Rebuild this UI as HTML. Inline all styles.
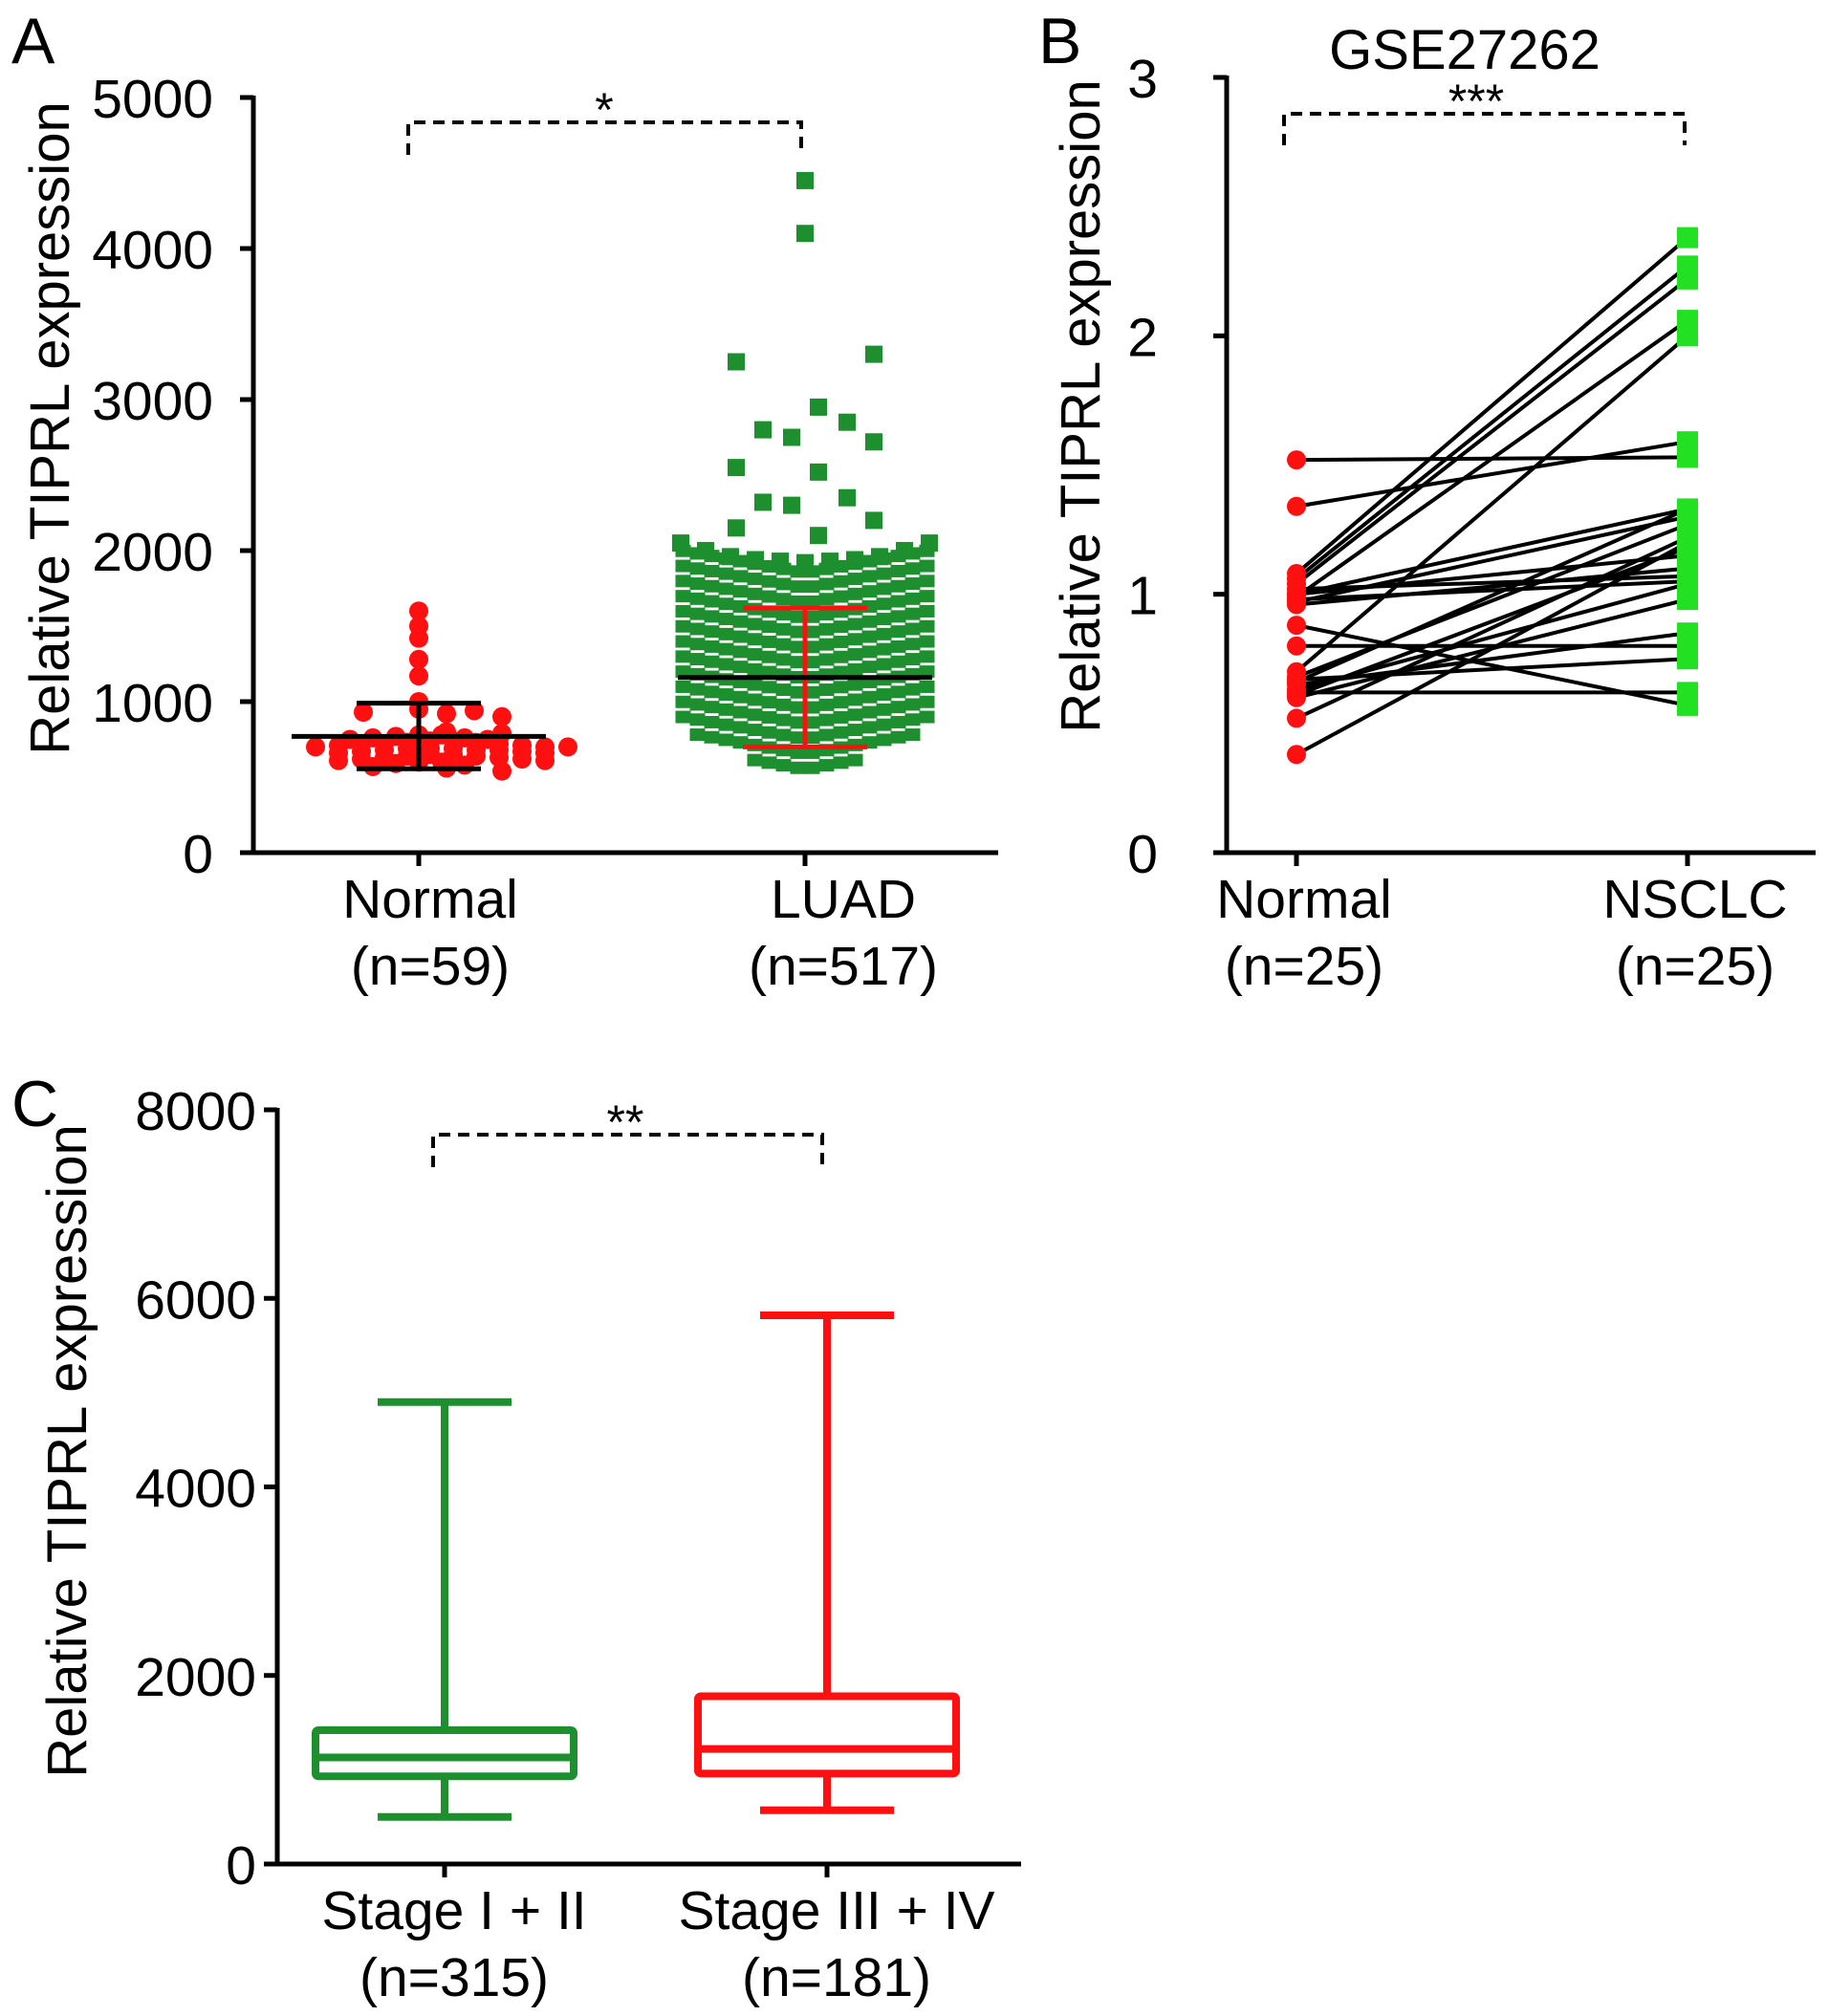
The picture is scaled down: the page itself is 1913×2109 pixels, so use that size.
<!DOCTYPE html>
<html><head><meta charset="utf-8">
<style>
html,body{margin:0;padding:0;background:#fff;}
svg{display:block;font-family:"Liberation Sans",Arial,sans-serif;}
</style></head>
<body>
<svg id="fig" width="1913" height="2109" viewBox="0 0 1913 2109" xmlns="http://www.w3.org/2000/svg">
<g font-size="68" fill="#000">
<text x="12" y="66">A</text>
<text x="1086" y="66">B</text>
<text x="12" y="1178">C</text>
</g>
</svg>
<script>
// ---------- Data ----------
const aTicks = [0,1000,2000,3000,4000,5000];
const aCats = ["Normal","LUAD"];
const aN = ["(n=59)","(n=517)"];
const normalVals = [1600,1500,1420,1280,1170,1000,950,940,920,900,930,800,790,780,780,770,760,760,750,750,740,740,730,730,720,720,720,710,710,700,700,700,690,690,690,680,680,680,670,670,660,660,650,650,640,640,630,630,620,620,610,610,600,600,590,580,570,560,540];
const normalStats = [770,555,990]; // mean, low, high
const luadOutliers = [4450,4100,3300,3250,2950,2850,2800,2750,2720,2550,2520,2350,2320,2300,2200,2150,2100];
const luadTopRow = [2050,2000,1960,1940,1930,1920,1930,1940,1960,2000,2050];
const luadRowVals = [1850,1750,1650,1550,1450,1350,1250,1150,1050,950,850,750,650,550];
const luadRowCounts = [18,18,18,18,18,18,18,18,18,18,18,18,16,8];
const luadStats = [1160,700,1620];

const bTicks = [0,1,2,3];
const bCats = ["Normal","NSCLC"];
const bN = ["(n=25)","(n=25)"];
const bNormal = [1.52,1.34,1.08,1.06,1.04,1.02,1.00,1.00,0.99,0.98,0.97,0.96,0.88,0.80,0.70,0.68,0.67,0.66,0.65,0.63,0.62,0.61,0.60,0.52,0.38];
const bNSCLC  = [1.53,1.59,2.38,2.27,2.22,1.07,1.33,1.15,2.06,1.05,1.30,1.10,0.57,0.80,2.00,1.27,0.75,1.33,0.85,1.04,0.62,1.18,0.98,1.22,1.20];

const cTicks = [0,2000,4000,6000,8000];
const cCats = ["Stage I + II","Stage III + IV"];
const cN = ["(n=315)","(n=181)"];
const cMin = [500,570];
const cQ1 = [930,960];
const cMed = [1130,1220];
const cQ3 = [1420,1780];
const cMax = [4900,5820];
const cColors = ["#1e8f2e","#ff1010"];

// ---------- helpers ----------
const NS="http://www.w3.org/2000/svg";
const svg=document.getElementById('fig');
function mk(tag,attrs,parent){const e=document.createElementNS(NS,tag);for(const k in attrs)e.setAttribute(k,attrs[k]);(parent||svg).appendChild(e);return e;}
function txt(s,attrs,parent){const e=mk('text',attrs,parent);e.textContent=s;return e;}

function axes(g,cfg){
  let e=mk('line',{x1:cfg.x0,y1:cfg.yTop-2,x2:cfg.x0,y2:cfg.y0+2,stroke:'#000','stroke-width':5},g);
  
  
  e=mk('line',{x1:cfg.x0-12,y1:cfg.y0,x2:cfg.x1,y2:cfg.y0,stroke:'#000','stroke-width':5},g);
  
  
  cfg.ticks.forEach(t=>{
    const y=cfg.ys(t);
    let l=mk('line',{x1:cfg.x0-14,y1:y,x2:cfg.x0,y2:y,stroke:'#000','stroke-width':5},g);
    
    
    let tt=txt(String(t),{x:cfg.x0-cfg.tickGap,y:y+21,'font-size':57,'text-anchor':'end'},g);
    
    
  });
  cfg.cats.forEach((c,i)=>{
    const x=cfg.xs[i];
    let l=mk('line',{x1:x,y1:cfg.y0,x2:x,y2:cfg.y0+14,stroke:'#000','stroke-width':5},g);
    
    
    let t1=txt(c,{x:x+cfg.lblDx[i],y:cfg.y0+68,'font-size':57,'text-anchor':'middle'},g);
    
    
    let t2=txt(cfg.ns[i],{x:x+cfg.lblDx[i],y:cfg.y0+138,'font-size':57,'text-anchor':'middle'},g);
    
    
  });
  let yt=txt('Relative TIPRL expression',{x:0,y:0,'font-size':58,'text-anchor':'middle',transform:`translate(${cfg.titleX},${cfg.titleY}) rotate(-90)`},g);
  
  
}
function bracket(g,x1,x2,y,yl,label,lx){
  const p=mk('path',{d:`M${x1},${yl} L${x1},${y} L${x2},${y} L${x2},${yl}`,fill:'none',stroke:'#000','stroke-width':4,'stroke-dasharray':'12,8'},g);
  
  
  const t=txt(label,{x:lx,y:y+4,'font-size':50,'text-anchor':'middle'},g);
  
  
}

// ---------- Panel A ----------
const gA=mk('g',{});


const A={x0:265,x1:1044,yTop:102,y0:892,ticks:aTicks,cats:aCats,ns:aN,xs:[438,842],lblDx:[12,40],titleX:72,titleY:448,tickGap:42};
A.ys=v=>A.y0-(v/5000)*(A.y0-A.yTop);
axes(gA,A);
(function(){
  const rows={};
  normalVals.forEach(v=>{const key=Math.round(v/45);(rows[key]=rows[key]||[]).push(v);});
  Object.keys(rows).forEach(k=>{
    const arr=rows[k];
    const sp=arr.length>3?24:58;
    arr.forEach((v,j)=>{
      const off=(j%2?1:-1)*Math.ceil(j/2)*sp + (arr.length%2?0:sp/2);
      const c=mk('circle',{cx:A.xs[0]+off,cy:A.ys(v),r:10,fill:'#ff1010'},gA);
      
      
    });
  });
})();
luadRowVals.forEach((v,i)=>{
  const n=luadRowCounts[i];
  for(let j=0;j<n;j++){
    const off=(j-(n-1)/2)*15;
    const dy=Math.abs(off)*0.18;
    const r=mk('rect',{x:A.xs[1]+off-8,y:A.ys(v)-7-dy,width:16,height:13,fill:'#1e8f2e'},gA);
    
    
  }
});
luadTopRow.forEach((v,j)=>{
  const off=(j-(luadTopRow.length-1)/2)*26;
  const r=mk('rect',{x:A.xs[1]+off-9,y:A.ys(v)-9,width:18,height:18,fill:'#1e8f2e'},gA);
  
  
});
luadOutliers.forEach((v,j)=>{
  const off=j<2?0:((j%3)-1)*58 + (j%2?-14:14);
  const r=mk('rect',{x:A.xs[1]+off-9,y:A.ys(v)-9,width:18,height:18,fill:'#1e8f2e'},gA);
  
  
});
function meanSD(g,x,st,halfMean,halfCap,col,meanCol,name){
  let l=mk('line',{x1:x,y1:A.ys(st[1]),x2:x,y2:A.ys(st[2]),stroke:col,'stroke-width':5},g);
  
  
  [st[1],st[2]].forEach(v=>{
    let c=mk('line',{x1:x-halfCap,y1:A.ys(v),x2:x+halfCap,y2:A.ys(v),stroke:col,'stroke-width':5},g);
    
    
  });
  let m=mk('line',{x1:x-halfMean,y1:A.ys(st[0]),x2:x+halfMean,y2:A.ys(st[0]),stroke:meanCol,'stroke-width':5},g);
  
  
}
meanSD(gA,A.xs[0],normalStats,133,65,'#000','#000','normal');
meanSD(gA,A.xs[1],luadStats,133,65,'#ff1010','#000','luad');
bracket(gA,427,838,128,162,'*',632);

// ---------- Panel B ----------
const gB=mk('g',{});


const B={x0:1283,x1:1899,yTop:81,y0:892,ticks:bTicks,cats:bCats,ns:bN,xs:[1356,1765],lblDx:[8,8],titleX:1150,titleY:425,tickGap:72};
B.ys=v=>B.y0-(v/3)*(B.y0-B.yTop);
axes(gB,B);
let tB=txt('GSE27262',{x:1532,y:72,'font-size':58,'text-anchor':'middle'},gB);


bracket(gB,1343,1762,119,152,'***',1544);
bNormal.forEach((v,i)=>{
  const l=mk('line',{x1:B.xs[0],y1:B.ys(v),x2:B.xs[1],y2:B.ys(bNSCLC[i]),stroke:'#000','stroke-width':4},gB);
  
  
});
bNormal.forEach(v=>{
  const c=mk('circle',{cx:B.xs[0],cy:B.ys(v),r:10,fill:'#ff1010'},gB);
  
  
});
bNSCLC.forEach(v=>{
  const r=mk('rect',{x:B.xs[1]-11,y:B.ys(v)-11,width:22,height:22,fill:'#22e022'},gB);
  
  
});

// ---------- Panel C ----------
const gC=mk('g',{});


const C={x0:290,x1:1068,yTop:1161,y0:1950,ticks:cTicks,cats:cCats,ns:cN,xs:[465,865],lblDx:[10,10],titleX:90,titleY:1518,tickGap:22};
C.ys=v=>C.y0-(v/8000)*(C.y0-C.yTop);
axes(gC,C);
bracket(gC,453,860,1187,1221,'**',654);
cCats.forEach((c,i)=>{
  const x=C.xs[i],col=cColors[i],hw=135,hc=70;
  let w=mk('line',{x1:x,y1:C.ys(cMax[i]),x2:x,y2:C.ys(cMin[i]),stroke:col,'stroke-width':8},gC);
  
  
  [cMin[i],cMax[i]].forEach(v=>{
    let cp=mk('line',{x1:x-hc,y1:C.ys(v),x2:x+hc,y2:C.ys(v),stroke:col,'stroke-width':8},gC);
    
    
  });
  let b=mk('rect',{x:x-hw,y:C.ys(cQ3[i]),width:2*hw,height:C.ys(cQ1[i])-C.ys(cQ3[i]),fill:'#fff',stroke:col,'stroke-width':8,rx:3},gC);
  
  
  let m=mk('line',{x1:x-hw,y1:C.ys(cMed[i]),x2:x+hw,y2:C.ys(cMed[i]),stroke:col,'stroke-width':8},gC);
  
  
});
</script>
</body></html>
